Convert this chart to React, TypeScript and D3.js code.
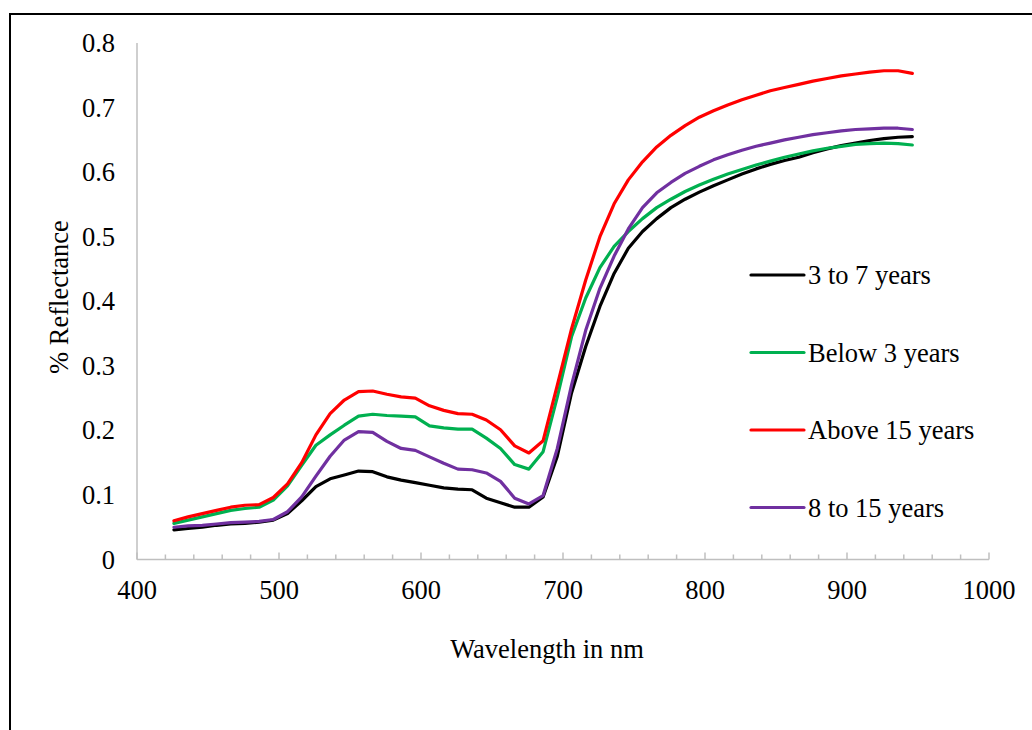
import React from "react";
import * as d3 from "d3";

// Wavelength samples (nm)
const wavelengths = [
  426, 436, 446, 456, 466, 476, 486, 496, 506, 516, 526, 536, 546, 556, 566, 576, 586, 596,
  606, 616, 626, 636, 646, 656, 666, 676, 686, 696, 706, 716, 726, 736, 746, 756, 766, 776,
  786, 796, 806, 816, 826, 836, 846, 856, 866, 876, 886, 896, 906, 916, 926, 936, 946,
];

// Mean reflectance per age class
const years3to7 = [
  0.046, 0.048, 0.05, 0.053, 0.055, 0.056, 0.058, 0.061, 0.071, 0.091, 0.113, 0.125, 0.131,
  0.137, 0.136, 0.128, 0.123, 0.119, 0.115, 0.111, 0.109, 0.108, 0.095, 0.088, 0.081, 0.081,
  0.097, 0.16, 0.258, 0.33, 0.392, 0.443, 0.482, 0.508, 0.528, 0.545, 0.558, 0.569, 0.579,
  0.588, 0.597, 0.605, 0.612, 0.618, 0.623, 0.63, 0.636, 0.641, 0.645, 0.649, 0.652, 0.654,
  0.655,
];
const below3 = [
  0.056, 0.061, 0.066, 0.071, 0.076, 0.079, 0.081, 0.092, 0.114, 0.146, 0.177, 0.193, 0.208,
  0.222, 0.225, 0.223, 0.222, 0.221, 0.207, 0.204, 0.202, 0.202, 0.188, 0.172, 0.147, 0.14,
  0.167, 0.252, 0.345, 0.405, 0.452, 0.485, 0.508, 0.528, 0.545, 0.558, 0.57, 0.58, 0.589,
  0.597, 0.604, 0.611, 0.617, 0.623, 0.628, 0.633, 0.637, 0.64, 0.643, 0.644, 0.645, 0.644,
  0.642,
];
const above15 = [
  0.06, 0.066, 0.071, 0.076, 0.081, 0.084, 0.085, 0.096, 0.117, 0.15, 0.193, 0.226, 0.247,
  0.26, 0.261, 0.256, 0.252, 0.25, 0.238, 0.231, 0.226, 0.225, 0.216, 0.201, 0.176, 0.165,
  0.184, 0.27, 0.357, 0.433, 0.5, 0.551, 0.588, 0.616, 0.639, 0.657, 0.672, 0.685, 0.695,
  0.704, 0.712, 0.719, 0.726, 0.731, 0.736, 0.741, 0.745, 0.749, 0.752, 0.755, 0.757, 0.757,
  0.753,
];
const years8to15 = [
  0.05, 0.052, 0.053, 0.055, 0.057, 0.058, 0.059, 0.062, 0.074, 0.097, 0.129, 0.16, 0.185,
  0.198, 0.197, 0.183, 0.172, 0.169, 0.159, 0.149, 0.14, 0.139, 0.134, 0.121, 0.095, 0.086,
  0.099, 0.172, 0.27, 0.355, 0.42, 0.47, 0.512, 0.545, 0.568, 0.584, 0.598, 0.609, 0.619,
  0.627, 0.634, 0.64, 0.645, 0.65, 0.654, 0.658, 0.661, 0.664, 0.666, 0.667, 0.668, 0.668,
  0.666,
];

const seriesNames = ["3 to 7 years", "Below 3 years", "Above 15 years", "8 to 15 years"];
const seriesValues = [years3to7, below3, above15, years8to15];
const seriesColors = ["#000000", "#00B050", "#FF0000", "#7030A0"];

const xTicks = [400, 500, 600, 700, 800, 900, 1000];
const yTicks = [0, 0.1, 0.2, 0.3, 0.4, 0.5, 0.6, 0.7, 0.8];
const yTickLabels = ["0", "0.1", "0.2", "0.3", "0.4", "0.5", "0.6", "0.7", "0.8"];

const W = 1032;
const H = 730;
const FONT = "'Liberation Serif', 'Times New Roman', serif";
const FS = 26.5;
const AXIS = "#BFBFBF";

export default function App() {
  const x = d3.scaleLinear().domain([400, 1000]).range([137, 989]);
  const y = d3.scaleLinear().domain([0, 0.8]).range([559.5, 43]);

  const line = d3
    .line<number>()
    .x((_, i) => x(wavelengths[i]))
    .y((d) => y(d));

  const minorTicks = d3.range(400, 1001, 20);

  const legendX = 751;
  const legendY0 = 275;
  const legendStep = 77.5;

  return (
    <svg
      width={W}
      height={H}
      style={{ position: "absolute", left: 0, top: 0, background: "#fff" }}
      fontFamily={FONT}
    >
      <rect x={0} y={0} width={W} height={H} fill="#fff" />
      {/* outer chart frame */}
      <rect x={10} y={14} width={W + 20} height={H + 20} fill="none" stroke="#000" strokeWidth={2} />

      {/* axes */}
      <line x1={x(400)} x2={x(400)} y1={y(0.8)} y2={y(0)} stroke={AXIS} strokeWidth={1.5} />
      <line x1={x(400)} x2={x(1000)} y1={y(0)} y2={y(0)} stroke={AXIS} strokeWidth={1.5} />
      {minorTicks.map((t) => (
        <line
          key={"mt" + t}
          x1={x(t)}
          x2={x(t)}
          y1={y(0)}
          y2={y(0) - (t % 100 === 0 ? 7 : 5)}
          stroke={AXIS}
          strokeWidth={1.5}
        />
      ))}

      {xTicks.map((t) => (
        <text key={"xt" + t} x={x(t)} y={599} textAnchor="middle" fontSize={FS} fill="#000">
          {t}
        </text>
      ))}
      {yTicks.map((t, i) => (
        <text key={"yt" + t} x={115} y={y(t) + 9} textAnchor="end" fontSize={FS} fill="#000">
          {yTickLabels[i]}
        </text>
      ))}

      {/* axis titles */}
      <text x={547} y={658} textAnchor="middle" fontSize={FS} fill="#000">
        Wavelength in nm
      </text>
      <text
        transform={`translate(68, 297) rotate(-90)`}
        textAnchor="middle"
        fontSize={FS}
        fill="#000"
      >
        % Reflectance
      </text>

      {/* spectra */}
      {seriesValues.map((vals, i) => (
        <path
          key={"s" + i}
          d={line(vals) || ""}
          fill="none"
          stroke={seriesColors[i]}
          strokeWidth={3.2}
          strokeLinejoin="round"
          strokeLinecap="round"
        />
      ))}

      {/* legend */}
      {seriesNames.map((name, i) => {
        const ly = legendY0 + i * legendStep;
        return (
          <g key={"lg" + i}>
            <line
              x1={legendX}
              x2={legendX + 53}
              y1={ly}
              y2={ly}
              stroke={seriesColors[i]}
              strokeWidth={3.2}
              strokeLinecap="round"
            />
            <text x={808} y={ly + 9} fontSize={FS} fill="#000">
              {name}
            </text>
          </g>
        );
      })}
    </svg>
  );
}
